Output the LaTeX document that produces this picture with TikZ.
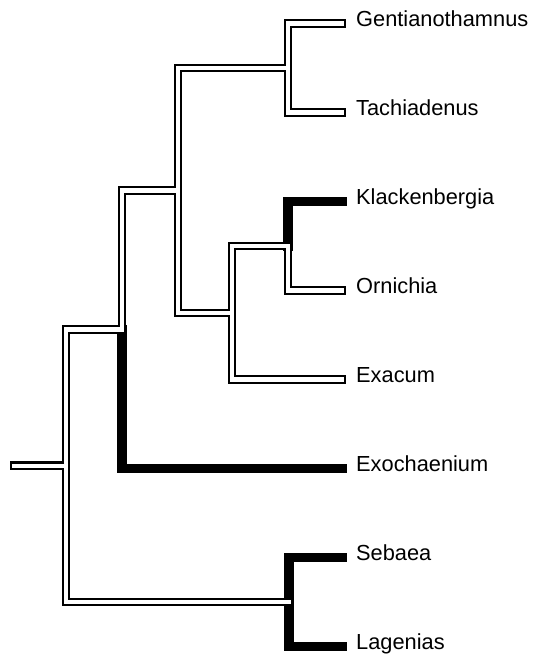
\documentclass[tikz,border=0pt]{standalone}
\usepackage{fontspec}
\setmainfont{Liberation Sans}
\usetikzlibrary{positioning}

\begin{document}
\begin{tikzpicture}[x=1pt, y=-1pt,
  branch/.style={line width=8.5pt, line cap=rect, line join=miter},
  gap/.style={line width=4.3pt, line cap=rect, line join=miter, white},
  blackbranch/.style={line width=9.5pt, line cap=rect, line join=miter},
  taxon/.style={inner sep=0pt, anchor=mid west, font=\fontsize{21.8}{24}\selectfont}]
\useasboundingbox (0,0) rectangle (533,656);

% internal nodes
\coordinate (base) at (14,465.7);
\coordinate (n0) at (66,465.7);
\coordinate (n1) at (122,329.4);
\coordinate (n2) at (178,190.4);
\coordinate (n3) at (288,68);
\coordinate (n4) at (232,312.8);
\coordinate (n5) at (288,246);
\coordinate (n6) at (289,602);

% tips
\coordinate (gen) at (342,23.5);
\coordinate (tac) at (342,112.5);
\coordinate (kla) at (342,201.5);
\coordinate (orn) at (342,290.5);
\coordinate (exa) at (342,379.5);
\coordinate (exo) at (342,468.5);
\coordinate (seb) at (342,557.5);
\coordinate (lag) at (342,646.5);

% branches
\foreach \a/\b in {base/n0, n0/n1, n1/n2, n2/n3, n3/gen, n3/tac, n2/n4, n4/n5, n5/orn, n4/exa, n0/n6}
  \draw[branch] (\a) |- (\b);
\foreach \a/\b in {n1/exo, n5/kla, n6/seb, n6/lag}
  \draw[blackbranch] (\a) |- (\b);
\foreach \a/\b in {base/n0, n0/n1, n1/n2, n2/n3, n3/gen, n3/tac, n2/n4, n4/n5, n5/orn, n4/exa, n0/n6}
  \draw[gap] (\a) |- (\b);

% labels
\node[right=14pt of gen, taxon] (genl) {Gentianothamnus};
\node[right=14pt of tac, taxon] (tacl) {Tachiadenus};
\node[right=14pt of kla, taxon] (klal) {Klackenbergia};
\node[right=14pt of orn, taxon] (ornl) {Ornichia};
\node[right=14pt of exa, taxon] (exal) {Exacum};
\node[right=14pt of exo, taxon] (exol) {Exochaenium};
\node[right=14pt of seb, taxon] (sebl) {Sebaea};
\node[right=14pt of lag, taxon] (lagl) {Lagenias};
\end{tikzpicture}
\end{document}
